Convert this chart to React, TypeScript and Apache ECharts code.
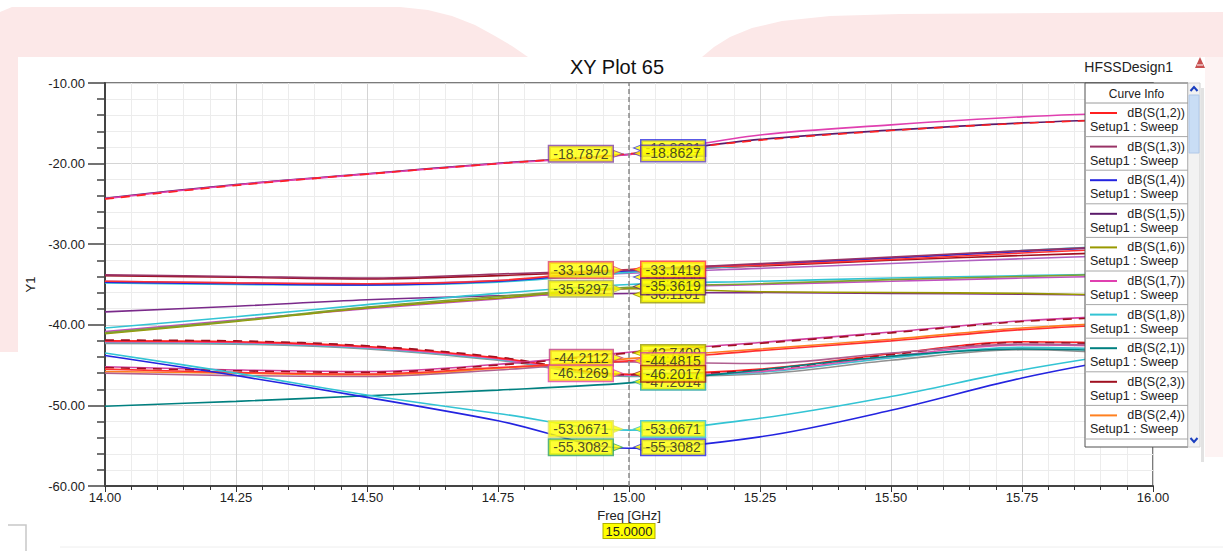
import { useEffect, useRef } from "react";
import * as echarts from "echarts";

const FONT = '"Liberation Sans", Arial, Helvetica, sans-serif';

// Frequency sample points (GHz)
const freq = [14.0, 14.25, 14.5, 14.75, 15.0, 15.25, 15.5, 15.75, 16.0];

// Top group
const s15 = [-24.3, -22.6, -21.25, -19.95, -18.86, -17.0, -15.85, -14.95, -14.4];
const s17 = [-24.35, -22.65, -21.3, -20.0, -18.88, -16.45, -15.2, -14.2, -13.6];
const s12 = [-24.4, -22.7, -21.3, -20.0, -18.79, -17.1, -15.9, -15.0, -14.4];

// Middle group (upper)
const s13 = [-33.8, -34.0, -34.2, -33.7, -33.19, -32.4, -31.6, -30.8, -30.1];
const s34 = [-34.7, -34.9, -35.05, -34.6, -33.3, -32.5, -31.7, -30.9, -30.1];
const s35 = [-34.6, -34.8, -34.9, -34.5, -33.14, -32.6, -31.9, -31.1, -30.4];
const s36 = [-33.9, -34.1, -34.3, -33.9, -33.3, -32.7, -32.0, -31.4, -30.9];
const s38 = [-34.8, -35.0, -35.1, -34.7, -33.5, -32.6, -31.7, -30.8, -30.0];
const s37 = [-34.6, -34.8, -34.9, -34.5, -33.6, -33.0, -32.4, -31.8, -31.3];

// Middle group (lower)
const s25 = [-38.4, -37.7, -36.9, -36.4, -36.11, -36.0, -36.1, -36.2, -36.4];
const s28 = [-40.4, -39.0, -37.5, -36.1, -35.0, -34.6, -34.2, -33.9, -33.6];
const s27 = [-40.85, -39.4, -38.0, -36.8, -35.5, -35.0, -34.6, -34.2, -33.9];
const s16 = [-41.1, -39.6, -37.9, -36.7, -35.53, -35.9, -36.0, -36.1, -36.4];
const s26 = [-41.0, -39.5, -37.8, -36.5, -35.36, -34.9, -34.4, -34.0, -33.6];

// Lower group (falling then rising)
const s42 = [-42.0, -42.1, -42.7, -44.1, -46.13, -45.5, -43.6, -42.1, -42.4];
const s43 = [-41.9, -42.0, -42.6, -44.0, -46.2, -45.6, -43.7, -42.2, -42.5];
const s45 = [-42.1, -42.2, -42.8, -44.2, -46.25, -45.8, -43.9, -42.5, -42.7];
const s46 = [-42.2, -42.3, -42.9, -44.3, -46.3, -45.9, -44.1, -42.8, -43.2];
const s47 = [-42.3, -42.4, -43.0, -44.4, -46.4, -46.1, -44.4, -43.1, -43.8];

// Lower group (rising)
const s54 = [-45.2, -45.6, -45.8, -44.9, -43.4, -42.2, -40.9, -39.5, -38.8];
const s23 = [-45.3, -45.7, -45.9, -45.0, -43.5, -42.3, -41.0, -39.6, -38.9];
const s24 = [-45.8, -46.0, -46.2, -45.4, -44.2, -43.0, -41.8, -40.4, -39.6];
const s52 = [-45.5, -45.9, -46.1, -45.3, -44.48, -43.2, -42.0, -40.6, -39.8];
const s53 = [-46.0, -46.3, -46.4, -45.6, -44.6, -44.8, -43.5, -42.4, -42.6];

// Bottom curves
const s21 = [-50.1, -49.5, -48.8, -48.1, -47.2, -45.6, -43.9, -43.0, -43.4];
const s18 = [-43.5, -46.0, -48.7, -51.0, -53.07, -51.6, -48.9, -45.6, -43.0];
const s14 = [-43.8, -46.3, -49.0, -51.9, -55.31, -53.9, -50.6, -46.6, -43.5];

// Curve names (draw order) and their values
const curveNames = [
  "dB(S(1,5))", "dB(S(1,7))", "dB(S(1,2))",
  "dB(S(3,6))", "dB(S(3,7))", "dB(S(3,8))", "dB(S(3,4))", "dB(S(3,5))", "dB(S(1,3))",
  "dB(S(2,5))", "dB(S(2,8))", "dB(S(2,7))", "dB(S(1,6))", "dB(S(2,6))",
  "dB(S(4,7))", "dB(S(4,6))", "dB(S(4,5))", "dB(S(4,2))", "dB(S(4,3))",
  "dB(S(5,3))", "dB(S(5,4))", "dB(S(2,3))", "dB(S(2,4))", "dB(S(5,2))",
  "dB(S(2,1))", "dB(S(1,8))", "dB(S(1,4))",
];
const curveValues = [
  s15, s17, s12,
  s36, s37, s38, s34, s35, s13,
  s25, s28, s27, s16, s26,
  s47, s46, s45, s42, s43,
  s53, s54, s23, s24, s52,
  s21, s18, s14,
];
const curveColors: Record<string, string> = {
  "dB(S(1,2))": "#FF2020",
  "dB(S(1,3))": "#993366",
  "dB(S(1,4))": "#2424E0",
  "dB(S(1,5))": "#5A1A6A",
  "dB(S(1,6))": "#999900",
  "dB(S(1,7))": "#E040B0",
  "dB(S(1,8))": "#33C4D4",
  "dB(S(2,1))": "#008080",
  "dB(S(2,3))": "#A01020",
  "dB(S(2,4))": "#FF8020",
  "dB(S(3,4))": "#2424E0",
  "dB(S(3,5))": "#FF3030",
  "dB(S(3,6))": "#A01020",
  "dB(S(3,7))": "#B060C0",
  "dB(S(3,8))": "#33C4D4",
  "dB(S(2,5))": "#7A2A8A",
  "dB(S(2,8))": "#33C4D4",
  "dB(S(2,7))": "#C050C0",
  "dB(S(2,6))": "#80A030",
  "dB(S(4,2))": "#FF2020",
  "dB(S(4,3))": "#A01020",
  "dB(S(4,5))": "#E050B0",
  "dB(S(4,6))": "#40C0D0",
  "dB(S(4,7))": "#909090",
  "dB(S(5,2))": "#FF3030",
  "dB(S(5,3))": "#B06090",
  "dB(S(5,4))": "#D040A0",
};
const dashedCurves = ["dB(S(1,2))", "dB(S(2,3))", "dB(S(4,3))"];

// Legend entries (first visible rows of the Curve Info box)
const legendNames = [
  "dB(S(1,2))", "dB(S(1,3))", "dB(S(1,4))", "dB(S(1,5))", "dB(S(1,6))",
  "dB(S(1,7))", "dB(S(1,8))", "dB(S(2,1))", "dB(S(2,3))", "dB(S(2,4))",
];

// Marker at 15 GHz
const markerFreq = 15.0;
const markerLeftValues = [-18.7872, -33.194, -35.5297, -44.2112, -46.1269, -53.0671, -55.3082];
const markerLeftColors = ["#8040A0", "#E04060", "#A0A060", "#C04080", "#E040A0", "#E0E060", "#30A060"];
const markerLeftShift = [0, 0, 0, -1, -1, -1, -1];
const markerRightValues = [-18.8021, -18.8627, -34.205, -33.1419, -36.1101, -35.3619, -42.7409, -44.4815, -47.2014, -46.2017, -53.0671, -55.3082];
const markerRightColors = ["#3030E0", "#6040B0", "#3030E0", "#FF3030", "#999900", "#602070", "#999900", "#D040A0", "#20A0A0", "#A02020", "#30C0D0", "#2020E0"];
const markerRightShift = [-6, -1, -1, 0, 1, -1, 6, 0, -1, -1, -1, -1];

// Axis ticks
const yTickFormat = (v: number) => v.toFixed(2);
const xTickFormat = (v: number) => v.toFixed(2);

function buildLegend() {
  const x0 = 1085;
  const y0 = 83;
  const w = 103;
  const h = 364;
  const headerH = 20;
  const itemH = 33.6;
  const els: any[] = [];
  els.push({ type: "rect", z: 100, shape: { x: x0, y: y0, width: w, height: h }, style: { fill: "#ffffff", stroke: "#505050", lineWidth: 1 } });
  els.push({ type: "text", z: 101, x: x0 + w / 2, y: y0 + 11, style: { text: "Curve Info", fontSize: 12, fontFamily: FONT, fill: "#222", align: "center", verticalAlign: "middle" } });
  els.push({ type: "line", z: 101, shape: { x1: x0, y1: y0 + headerH, x2: x0 + w, y2: y0 + headerH }, style: { stroke: "#9a9a9a", lineWidth: 1 } });
  legendNames.forEach((n, i) => {
    const top = y0 + headerH + i * itemH;
    els.push({ type: "line", z: 101, shape: { x1: x0 + 5, y1: top + 10, x2: x0 + 32, y2: top + 10 }, style: { stroke: curveColors[n], lineWidth: 2 } });
    els.push({ type: "text", z: 101, x: x0 + w - 3, y: top + 10, style: { text: n, fontSize: 12.5, fontFamily: FONT, fill: "#222", align: "right", verticalAlign: "middle" } });
    els.push({ type: "text", z: 101, x: x0 + 5, y: top + 24, style: { text: "Setup1 : Sweep", fontSize: 12.5, fontFamily: FONT, fill: "#222", align: "left", verticalAlign: "middle" } });
    els.push({ type: "line", z: 101, shape: { x1: x0, y1: top + itemH, x2: x0 + w, y2: top + itemH }, style: { stroke: "#a8a8a8", lineWidth: 1 } });
  });
  // scrollbar
  els.push({ type: "rect", z: 100, shape: { x: x0 + w, y: y0, width: 12, height: h }, style: { fill: "#F2F2F2", stroke: "#d0d0d0", lineWidth: 1 } });
  els.push({ type: "rect", z: 101, shape: { x: x0 + w + 1, y: y0 + 12, width: 10, height: 58 }, style: { fill: "#C9DDF5", stroke: "#B0C8E8", lineWidth: 1 } });
  els.push({ type: "polyline", z: 102, shape: { points: [[x0 + w + 2.5, y0 + 8], [x0 + w + 6, y0 + 4], [x0 + w + 9.5, y0 + 8]] }, style: { stroke: "#1A3FBF", lineWidth: 2, fill: "none" } });
  els.push({ type: "polyline", z: 102, shape: { points: [[x0 + w + 2.5, y0 + h - 9], [x0 + w + 6, y0 + h - 5], [x0 + w + 9.5, y0 + h - 9]] }, style: { stroke: "#1A3FBF", lineWidth: 2, fill: "none" } });
  els.push({ type: "rect", z: 99, shape: { x: x0 + w + 13, y: y0 + 5, width: 3, height: h + 10 }, style: { fill: "#E2E2E2" } });
  return els;
}

function buildDecor() {
  const pink = "#FCE8E8";
  return [
    { type: "polygon", z: -10, shape: { points: [[0, 57], [0, 12], [12, 7], [400, 7], [428, 10], [452, 16], [475, 25], [495, 36], [512, 46], [528, 57]] }, style: { fill: pink } },
    { type: "polygon", z: -10, shape: { points: [[702, 57], [714, 47], [730, 37], [752, 28], [782, 21], [830, 16], [900, 14], [1223, 12], [1223, 57]] }, style: { fill: pink } },
    { type: "rect", z: -10, shape: { x: 0, y: 57, width: 18, height: 295 }, style: { fill: pink } },
    { type: "rect", z: -10, shape: { x: 1205, y: 57, width: 18, height: 400 }, style: { fill: "#FDF3F3" } },
    { type: "polyline", z: -9, shape: { points: [[8, 525], [26, 525], [26, 551]] }, style: { stroke: "#C8C8C8", lineWidth: 1.5, fill: "none" } },
    { type: "line", z: -9, shape: { x1: 60, y1: 547, x2: 1223, y2: 547 }, style: { stroke: "#EEEEEE", lineWidth: 1 } },
    { type: "text", x: 617, y: 67, style: { text: "XY Plot 65", fontSize: 20, fontFamily: FONT, fill: "#111", align: "center", verticalAlign: "middle" } },
    { type: "text", x: 1173, y: 67, style: { text: "HFSSDesign1", fontSize: 14, fontFamily: FONT, fill: "#222", align: "right", verticalAlign: "middle" } },
    { type: "polygon", shape: { points: [[1195, 68], [1200, 57], [1205, 68]] }, style: { fill: "#C85050" } },
    { type: "line", shape: { x1: 1197, y1: 65, x2: 1203, y2: 65 }, style: { stroke: "#fff", lineWidth: 1 } },
  ];
}

export default function App() {
  const ref = useRef<HTMLDivElement>(null);
  useEffect(() => {
    if (!ref.current) return;
    const chart = echarts.init(ref.current, undefined, { renderer: "svg" });

    const lineSeries: any[] = curveNames.map((n, idx) => ({
      type: "line",
      name: n,
      data: freq.map((f, i) => [f, curveValues[idx][i]]),
      symbol: "none",
      showSymbol: false,
      smooth: 0.35,
      silent: true,
      z: 2,
      lineStyle: {
        color: curveColors[n],
        width: 1.6,
        type: dashedCurves.includes(n) ? [9, 7] : "solid",
      },
    }));

    // dashed marker line at 15 GHz
    lineSeries[0].markLine = {
      silent: true,
      symbol: "none",
      animation: false,
      lineStyle: { color: "#8a8a8a", type: [5, 3], width: 1.5 },
      label: {
        show: true,
        position: "start",
        distance: 38,
        formatter: () => markerFreq.toFixed(4),
        backgroundColor: "#FFFF00",
        borderColor: "#B0B000",
        borderWidth: 1,
        padding: [1, 2, 0, 2],
        fontSize: 13,
        fontFamily: FONT,
        color: "#222",
      },
      data: [{ xAxis: markerFreq }],
    };

    const mkLabel = (v: number, side: "left" | "right", color: string, dy: number) => ({
      value: [markerFreq, v],
      label: {
        show: true,
        position: side,
        distance: side === "left" ? 16 : 12,
        offset: [0, dy],
        formatter: () => v.toFixed(4),
        backgroundColor: "#FFFF00",
        borderColor: color,
        borderWidth: 1.5,
        padding: [1, 4, 0, 4],
        lineHeight: 14,
        fontSize: 14,
        fontFamily: FONT,
        color: "#222",
      },
    });

    const leftLabels = markerLeftValues.map((v, i) => mkLabel(v, "left", markerLeftColors[i], markerLeftShift[i]));
    const rightLabels = markerRightValues.map((v, i) => mkLabel(v, "right", markerRightColors[i], markerRightShift[i]));

    const arrowLeft = markerLeftValues.map((v, i) => ({
      value: [markerFreq, v],
      symbolOffset: [-11, markerLeftShift[i]],
      itemStyle: { color: "#FFFF00", borderColor: markerLeftColors[i], borderWidth: 1 },
    }));
    const arrowRight = markerRightValues.map((v, i) => ({
      value: [markerFreq, v],
      symbolOffset: [9, markerRightShift[i]],
      itemStyle: { color: "#FFFF00", borderColor: markerRightColors[i], borderWidth: 1 },
    }));

    const labelSeries: any[] = [
      { type: "scatter", silent: true, z: 8, symbol: "path://M0,0 L8,4 L0,8 Z", symbolSize: [9, 7], data: arrowLeft },
      { type: "scatter", silent: true, z: 8, symbol: "path://M8,0 L0,4 L8,8 Z", symbolSize: [9, 7], data: arrowRight },
      { type: "scatter", silent: true, z: 10, symbol: "rect", symbolSize: 1, itemStyle: { color: "rgba(0,0,0,0)" }, data: leftLabels },
      { type: "scatter", silent: true, z: 10, symbol: "rect", symbolSize: 1, itemStyle: { color: "rgba(0,0,0,0)" }, data: rightLabels },
    ];

    const axisText = { fontSize: 13, color: "#222", fontFamily: FONT };

    chart.setOption({
      animation: false,
      backgroundColor: "#ffffff",
      textStyle: { fontFamily: FONT },
      grid: {
        left: 105,
        top: 83,
        right: 70,
        bottom: 65,
        show: true,
        borderColor: "#505050",
        borderWidth: 1.5,
        backgroundColor: "#ffffff",
      },
      xAxis: {
        type: "value",
        min: 14,
        max: 16,
        interval: 0.25,
        name: "Freq [GHz]",
        nameLocation: "middle",
        nameGap: 21,
        nameTextStyle: { ...axisText, fontSize: 13 },
        axisLine: { show: true, onZero: false, lineStyle: { color: "#444", width: 2 } },
        axisTick: { show: true, length: 6, lineStyle: { color: "#333" } },
        minorTick: { show: true, splitNumber: 5, length: 4, lineStyle: { color: "#333" } },
        splitLine: { show: true, lineStyle: { color: "#D4D4D4", width: 1 } },
        minorSplitLine: { show: true, lineStyle: { color: "#ECECEC", width: 1 } },
        axisLabel: { ...axisText, margin: 5, formatter: xTickFormat },
      },
      yAxis: {
        type: "value",
        min: -60,
        max: -10,
        interval: 10,
        name: "Y1",
        nameLocation: "middle",
        nameGap: 60,
        nameRotate: 90,
        nameTextStyle: { ...axisText, fontSize: 13 },
        axisLine: { show: true, onZero: false, lineStyle: { color: "#444", width: 2 } },
        axisTick: { show: true, length: 17, lineStyle: { color: "#444", width: 1.5 } },
        minorTick: { show: true, splitNumber: 5, length: 8, lineStyle: { color: "#444", width: 1.5 } },
        splitLine: { show: true, lineStyle: { color: "#D4D4D4", width: 1 } },
        minorSplitLine: { show: true, lineStyle: { color: "#ECECEC", width: 1 } },
        axisLabel: { ...axisText, margin: 20, formatter: yTickFormat },
      },
      graphic: [...buildDecor(), ...buildLegend()],
      series: [...lineSeries, ...labelSeries],
    });

    return () => chart.dispose();
  }, []);

  return (
    <div
      ref={ref}
      style={{ position: "fixed", left: 0, top: 0, width: 1223, height: 551, background: "#fff" }}
    />
  );
}
